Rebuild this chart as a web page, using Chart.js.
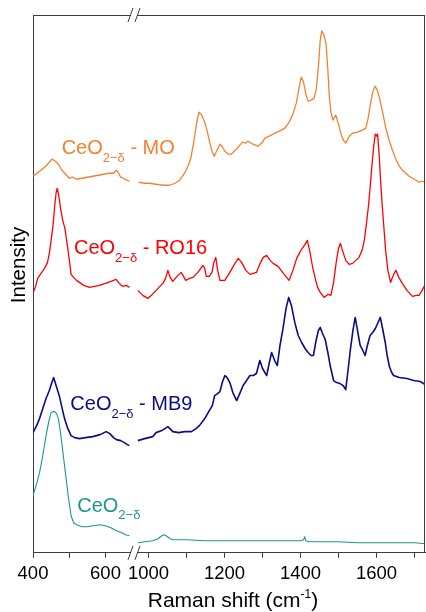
<!DOCTYPE html>
<html><head><meta charset="utf-8">
<script src="https://cdn.jsdelivr.net/npm/chart.js@4.4.1/dist/chart.umd.min.js"></script>
<style>html,body{margin:0;padding:0;background:#fff;}canvas{display:block;}</style>
</head><body>
<canvas id="c" width="426" height="612"></canvas>
<script>
// ---------------- DATA (Raman shift in cm-1, intensity in arbitrary units incl. offset) --------------
const moShift = [400,408,415,425,435,445,452,458,465,472,480,490,500,510,520,535,550,565,580,595,610,622,630,636,642,650,658,667,
  974,990,1003,1020,1040,1055,1070,1082,1095,1105,1112,1120,1127,1133,1140,1148,1155,1161,1167,1173,1180,1188,1195,1201,1210,1218,1228,1236,1247,1255,1262,1275,1288,1300,1306,1318,1332,1345,1359,1370,1379,1389,1396,1402,1408,1414,1420,1428,1436,1442,1447,1452,1456,1461,1467,1472,1476,1480,1485,1493,1500,1506,1513,1519,1528,1537,1550,1563,1572,1578,1584,1590,1596,1602,1608,1616,1624,1633,1642,1651,1660,1668,1677,1686,1695,1704,1712,1720,1728];
const moIntensity = [376,378,380,383,386,390,393,392,390,387,382,378,374,375,373,374,375,376,377,378,379,379,382,379,375,374,372,371,
  370,369,369,368,367,367,369,372,379,387,395,412,430,440,437,430,420,410,401,396,402,408,405,401,398,398,402,405,410,409,411,408,406,410,414,416,419,421,424,430,437,449,464,475,470,458,451,452,454,464,485,512,521,518,509,482,455,440,432,437,428,419,412,409,416,419,420,422,424,434,448,460,466,462,454,440,425,412,402,393,386,382,379,376,374,372,370,371,370];

const roShift = [400,407,413,422,432,440,445,450,455,460,464,467,471,476,482,488,496,501,505,512,520,528,540,556,570,583,600,615,629,638,648,657,666,
  972,985,998,1010,1020,1030,1038,1045,1051,1057,1064,1075,1086,1092,1098,1108,1117,1130,1143,1148,1152,1160,1167,1172,1177,1182,1188,1195,1201,1214,1226,1236,1245,1256,1267,1284,1295,1302,1311,1320,1328,1341,1355,1370,1380,1390,1401,1412,1418,1425,1432,1440,1445,1452,1462,1472,1480,1487,1494,1500,1505,1512,1519,1528,1537,1546,1554,1562,1568,1574,1579,1583,1588,1593,1597,1600,1603,1607,1611,1615,1619,1624,1630,1637,1645,1651,1660,1668,1680,1695,1705,1712,1720,1727];
const roIntensity = [259,266,274,279,284,290,299,312,326,347,360,364,357,344,332,324,304,290,278,275,272,270,267,265,266,267,269,271,273,269,266,267,265,
  262,257,254,258,262,266,269,274,282,275,271,276,280,276,272,274,275,280,287,284,276,276,280,290,295,282,272,272,272,280,288,294,290,282,278,280,290,295,297,292,289,286,279,272,282,294,302,308,312,300,285,272,265,260,255,258,257,270,290,304,309,300,292,288,289,292,295,302,312,330,347,364,387,407,418,416,418,397,370,347,327,302,282,270,278,282,274,269,262,256,257,257,262,267];

const mbShift = [400,410,418,427,436,445,452,457,462,468,473,480,487,495,505,515,528,545,565,585,602,612,622,630,642,652,660,666,
  972,990,1011,1020,1035,1051,1064,1080,1095,1113,1125,1134,1148,1160,1168,1174,1182,1188,1195,1201,1207,1214,1222,1232,1240,1249,1258,1267,1276,1284,1293,1300,1311,1318,1324,1332,1339,1346,1354,1362,1369,1376,1385,1394,1403,1412,1420,1428,1434,1440,1447,1452,1458,1465,1472,1478,1487,1495,1504,1512,1519,1525,1531,1538,1544,1550,1557,1564,1570,1576,1583,1590,1597,1604,1610,1616,1623,1628,1634,1640,1645,1660,1680,1698,1715,1728];
const mbIntensity = [120,127,134,144,154,162,170,175,169,162,156,145,134,125,117,115,114,115,116,118,121,119,115,113,112,110,108,107,
  112,114,116,120,122,126,121,120,121,121,124,127,134,142,147,157,159,161,171,177,175,170,160,152,159,167,172,177,177,179,192,184,177,190,200,192,187,207,224,244,255,247,230,217,210,204,200,197,197,210,222,225,219,213,200,187,172,170,169,167,163,182,202,222,235,222,207,202,197,207,217,220,224,230,235,224,210,197,186,180,177,175,174,172,171,168];

const ceShift = [400,410,418,427,436,444,450,455,460,465,470,476,482,488,493,499,505,512,520,535,550,565,583,600,615,630,645,655,666,
  972,990,1011,1025,1035,1042,1050,1058,1064,1100,1150,1200,1250,1300,1350,1400,1408,1411,1414,1420,1450,1500,1550,1600,1650,1700,1728];
const ceIntensity = [57,69,80,97,117,132,140,141,141,139,134,120,102,84,69,52,37,30,28,26,26,27,28,27,25,22,20,18,17,
  10,11,12,14,17,18,16,14,13,13,12,12,12,12,12,12,13,16,12,11,11,11,10,10,10,10,9];

const xTickValues = [400,500,600,1000,1100,1200,1300,1400,1500,1600,1700];
const xTickLabels = ['400','','600','1000','','1200','','1400','','1600',''];
const seriesLabels = [
  {base:'CeO', sub:'2\u2212\u03b4', rest:' - MO'},
  {base:'CeO', sub:'2\u2212\u03b4', rest:' - RO16'},
  {base:'CeO', sub:'2\u2212\u03b4', rest:' - MB9'},
  {base:'CeO', sub:'2\u2212\u03b4', rest:''}
];
const xTitle = 'Raman shift (cm';
const xTitleSup = '-1';
const yTitle = 'Intensity';

// ---------------- broken axis mapping ----------------
const LEFT_END = 700, RIGHT_START = 900, BREAK_AT = 800;
function toAxis(v){
  if (v <= LEFT_END) return (v - 400) * 0.3625;
  if (v >= RIGHT_START) return 115.5 + (v - 1000) * 0.38;
  return 101;
}
function buildPoints(shift, inten){
  const pts = [];
  for (let i = 0; i < shift.length; i++){
    if (i > 0 && shift[i-1] <= LEFT_END && shift[i] >= RIGHT_START) pts.push({x: toAxis(BREAK_AT), y: null});
    pts.push({x: toAxis(shift[i]), y: inten[i]});
  }
  return pts;
}

const colors = ['#F4812F', '#FF0000', '#0C0C86', '#1E9690'];
const FONT = '"Liberation Sans", Arial, sans-serif';

const decor = {
  id: 'decor',
  afterDraw(chart, args, opts){
    const {ctx, chartArea: a, scales: {x, y}} = chart;
    ctx.save();
    ctx.strokeStyle = '#3c3c3c'; ctx.lineWidth = 1;
    ctx.beginPath();
    ctx.moveTo(a.left, a.top + 0.5); ctx.lineTo(a.right, a.top + 0.5);
    ctx.moveTo(a.right - 0.5, a.top); ctx.lineTo(a.right - 0.5, a.bottom);
    ctx.stroke();
    // axis break marks
    const bx = x.getPixelForValue(toAxis(BREAK_AT));
    for (const yy of [a.top, a.bottom]){
      ctx.fillStyle = '#fff';
      ctx.fillRect(bx - 3, yy - 2, 6, 4);
      ctx.beginPath();
      ctx.moveTo(bx - 6, yy + 7); ctx.lineTo(bx - 1, yy - 7);
      ctx.moveTo(bx + 1, yy + 7); ctx.lineTo(bx + 6, yy - 7);
      ctx.stroke();
    }
    // series labels
    ctx.textAlign = 'left'; ctx.textBaseline = 'alphabetic';
    opts.anchors.forEach((an, i) => {
      const lab = seriesLabels[i];
      let px = x.getPixelForValue(toAxis(an[0]));
      const py = y.getPixelForValue(an[1]);
      ctx.fillStyle = colors[i];
      ctx.font = '20px ' + FONT;
      ctx.fillText(lab.base, px, py); px += ctx.measureText(lab.base).width;
      ctx.font = '13px ' + FONT;
      ctx.fillText(lab.sub, px, py + 7.5); px += ctx.measureText(lab.sub).width;
      ctx.font = '20px ' + FONT;
      if (lab.rest) ctx.fillText(lab.rest, px, py);
    });
    // x title with superscript
    ctx.fillStyle = '#000';
    ctx.font = '21px ' + FONT;
    const w1 = ctx.measureText(xTitle).width;
    ctx.font = '12px ' + FONT;
    const w2 = ctx.measureText(xTitleSup).width;
    ctx.font = '21px ' + FONT;
    const w3 = ctx.measureText(')').width;
    let sx = 233 - (w1 + w2 + w3) / 2;
    const by = 607;
    ctx.fillText(xTitle, sx, by); sx += w1;
    ctx.font = '12px ' + FONT; ctx.fillText(xTitleSup, sx, by - 9); sx += w2;
    ctx.font = '21px ' + FONT; ctx.fillText(')', sx, by);
    // y title
    ctx.save();
    ctx.translate(24.5, 265); ctx.rotate(-Math.PI / 2);
    ctx.textAlign = 'center'; ctx.font = '20.5px ' + FONT;
    ctx.fillText(yTitle, 0, 0);
    ctx.restore();
    ctx.restore();
  }
};

const datasets = [
  {data: buildPoints(moShift, moIntensity), borderColor: colors[0], borderWidth: 1.3},
  {data: buildPoints(roShift, roIntensity), borderColor: colors[1], borderWidth: 1.3},
  {data: buildPoints(mbShift, mbIntensity), borderColor: colors[2], borderWidth: 1.6},
  {data: buildPoints(ceShift, ceIntensity), borderColor: colors[3], borderWidth: 1.1}
];

new Chart(document.getElementById('c'), {
  type: 'line',
  data: {datasets},
  plugins: [decor],
  options: {
    responsive: false, animation: false, devicePixelRatio: 1,
    layout: {padding: {left: 25, right: 1, top: 15, bottom: 22}},
    elements: {point: {radius: 0}, line: {tension: 0, fill: false, borderJoinStyle: 'round'}},
    plugins: {
      legend: {display: false}, tooltip: {enabled: false},
      decor: {anchors: [[479, 398], [513, 298], [503, 142.5], [522, 41]]}
    },
    scales: {
      x: {
        type: 'linear', min: 0, max: 392,
        afterBuildTicks: s => { s.ticks = xTickValues.map(v => ({value: toAxis(v)})); },
        ticks: {autoSkip: false, maxRotation: 0, padding: 5, color: '#000',
          font: {family: FONT, size: 18.5}, callback: (val, i) => xTickLabels[i]},
        grid: {display: true, drawOnChartArea: false, drawTicks: true, tickLength: 5, color: '#3c3c3c'},
        border: {display: true, color: '#3c3c3c', width: 1}
      },
      y: {
        min: 0, max: 537,
        ticks: {display: false}, grid: {display: false},
        border: {display: true, color: '#3c3c3c', width: 1}
      }
    }
  }
});
</script>
</body></html>
